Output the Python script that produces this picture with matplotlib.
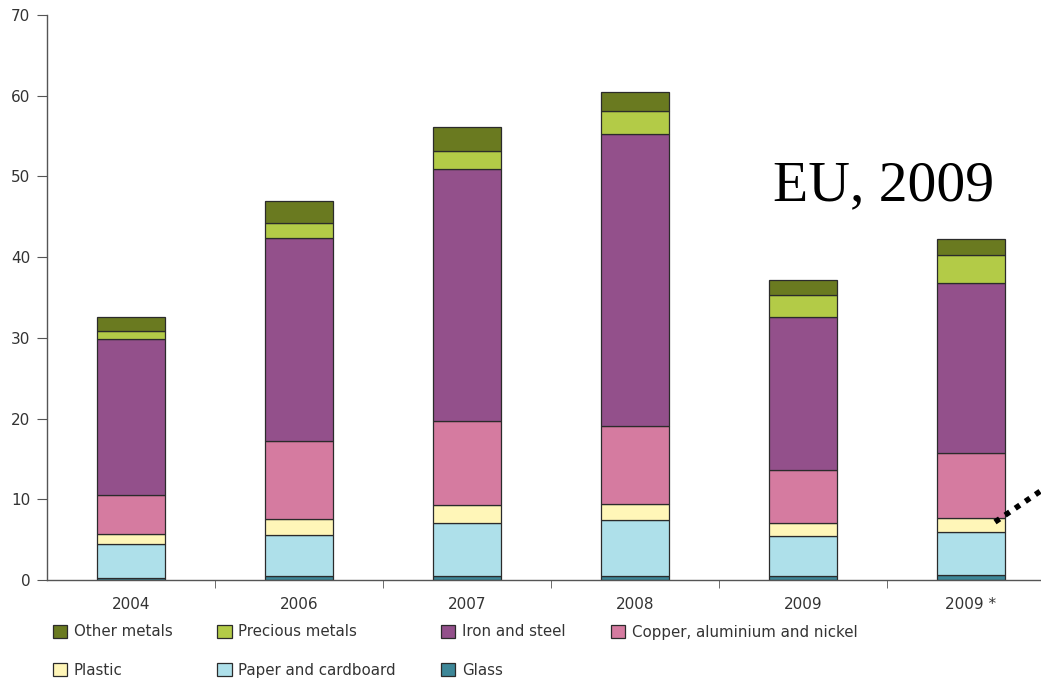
import numpy as np
import matplotlib.pyplot as plt
from matplotlib.lines import Line2D

years = ["2004", "2006", "2007", "2008", "2009", "2009 *"]

# values per layer (bottom to top)
glass = [0.3, 0.55, 0.55, 0.55, 0.55, 0.65]
paper = [4.2, 5.05, 6.55, 6.9, 4.85, 5.25]
plastic = [1.25, 2.0, 2.2, 2.0, 1.7, 1.8]
copper = [4.8, 9.6, 10.4, 9.65, 6.5, 8.0]
iron = [19.25, 25.2, 31.2, 36.2, 19.0, 21.1]
precious = [1.1, 1.8, 2.2, 2.8, 2.7, 3.5]
other = [1.7, 2.8, 3.0, 2.4, 1.9, 1.9]

layers = [
    ("Glass", glass, "#3d8798"),
    ("Paper and cardboard", paper, "#aee0ea"),
    ("Plastic", plastic, "#fff6b8"),
    ("Copper, aluminium and nickel", copper, "#d57ba0"),
    ("Iron and steel", iron, "#93508b"),
    ("Precious metals", precious, "#b3cb47"),
    ("Other metals", other, "#6a7a20"),
]

plt.rcParams['font.family'] = ['DejaVu Sans']

fig = plt.figure(figsize=(10.41, 6.79), dpi=100)
ax = fig.add_axes([47/1041, 99/679, 1008/1041, 565/679])

x = np.arange(len(years))
bottom = np.zeros(len(years))
handles = {}
for name, vals, col in layers:
    b = ax.bar(x, vals, 0.405, bottom=bottom, color=col, edgecolor="#2b2b2b",
               linewidth=0.9, label=name)
    handles[name] = b
    bottom += np.array(vals)

ax.set_xlim(-0.5, 5.5)
ax.set_ylim(0, 70)
ax.set_yticks(range(0, 71, 10))
ax.set_xticks(x)
ax.set_xticklabels(years)
ax.set_xticks(np.arange(0.5, 5.5, 1), minor=True)
ax.tick_params(axis="x", which="major", length=0, pad=12, labelsize=11, labelcolor="#333333")
ax.tick_params(axis="x", which="minor", length=6, color="#555555")
ax.tick_params(axis="y", length=7, color="#555555", labelsize=11, labelcolor="#333333", pad=5)
for s in ["top", "right"]:
    ax.spines[s].set_visible(False)
for s in ["left", "bottom"]:
    ax.spines[s].set_color("#555555")
    ax.spines[s].set_linewidth(1.0)

order = ["Other metals", "Plastic", "Precious metals", "Paper and cardboard",
         "Iron and steel", "Glass", "Copper, aluminium and nickel"]
leg = fig.legend([handles[n] for n in order], order, ncol=4,
                 loc="upper left", bbox_to_anchor=(39/1041, 1 - 611/679),
                 frameon=False, fontsize=10.8, handlelength=0.95, handleheight=0.95,
                 handletextpad=0.45, columnspacing=3.0, labelspacing=1.55)
for t in leg.get_texts():
    t.set_color("#333333")

fig.text(773/1041, 1 - 200/679, "EU, 2009", family="Liberation Serif",
         fontsize=41.5, color="black")

fig.add_artist(Line2D([995/1041, 1045/1041], [1 - 522/679, 1 - 488/679],
                      transform=fig.transFigure, color="black", lw=4,
                      linestyle=(0, (1, 1.2)), clip_on=False))

fig.savefig("out.png", dpi=100)
